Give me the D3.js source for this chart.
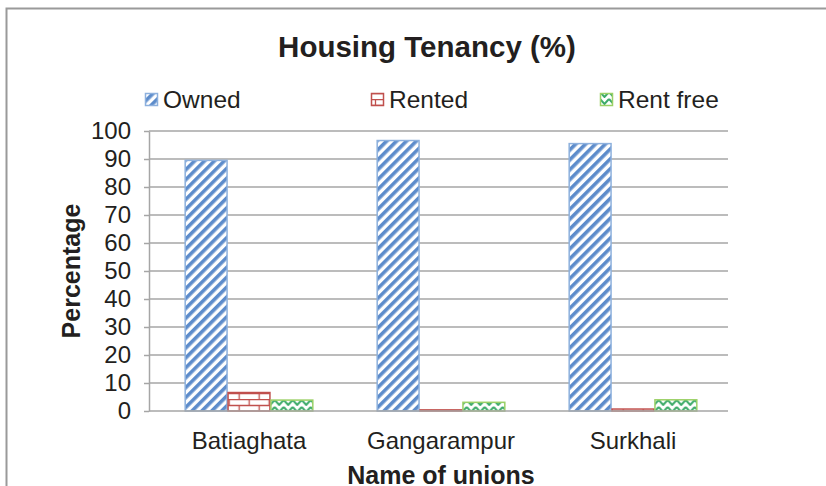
<!DOCTYPE html>
<html>
<head>
<meta charset="utf-8">
<script src="https://cdn.jsdelivr.net/npm/d3@7/dist/d3.min.js"></script>
<style>
  html, body { margin: 0; padding: 0; background: #fff; }
  svg { display: block; font-family: "Liberation Sans", Arial, sans-serif; }
</style>
</head>
<body>
<svg id="chart" width="826" height="486"></svg>
<script>
// Housing tenancy shares by union
const unions = ["Batiaghata", "Gangarampur", "Surkhali"];
const seriesNames = ["Owned", "Rented", "Rent free"];
const owned = [89.5, 96.6, 95.5];
const rented = [6.6, 0.4, 0.7];
const rentFree = [3.9, 3.1, 4.0];
const yTicks = [0, 10, 20, 30, 40, 50, 60, 70, 80, 90, 100];

const seriesValues = [owned, rented, rentFree];

const svg = d3.select("#chart");
const defs = svg.append("defs");
const textColor = "#231f20";

// Owned: blue diagonal stripes
const pOwned = defs.append("pattern")
  .attr("id", "pat-owned").attr("patternUnits", "userSpaceOnUse")
  .attr("width", 7).attr("height", 7)
  .attr("patternTransform", "rotate(45)");
pOwned.append("rect").attr("width", 7).attr("height", 7).attr("fill", "#ffffff");
pOwned.append("rect").attr("width", 3.6).attr("height", 7).attr("fill", "#5d8ccb");

// Rented: red brick
const pRent = defs.append("pattern")
  .attr("id", "pat-rented").attr("patternUnits", "userSpaceOnUse")
  .attr("width", 20).attr("height", 12).attr("y", 411);
pRent.append("rect").attr("width", 20).attr("height", 12).attr("fill", "#ffffff");
pRent.append("path")
  .attr("d", "M0,0.5H20 M0,6.5H20 M4.5,0V6 M14.5,6V12")
  .attr("stroke", "#c0504d").attr("stroke-width", 1.3).attr("fill", "none");

// Rent free: green zigzag trellis
const pFree = defs.append("pattern")
  .attr("id", "pat-free").attr("patternUnits", "userSpaceOnUse")
  .attr("width", 9).attr("height", 7);
pFree.append("rect").attr("width", 9).attr("height", 7).attr("fill", "#ffffff");
pFree.append("path")
  .attr("d", "M0,1 L4.5,6 L9,1")
  .attr("stroke", "#3dab6a").attr("stroke-width", 2).attr("fill", "none");

const fills = ["url(#pat-owned)", "url(#pat-rented)", "url(#pat-free)"];
const strokes = ["#8db0dd", "#c0504d", "#9bd066"];

// Outer frame
svg.append("rect")
  .attr("x", 6.5).attr("y", 8.5).attr("width", 840).attr("height", 500)
  .attr("fill", "none").attr("stroke", "#9a9a9a").attr("stroke-width", 2);

const plotLeft = 149, plotRight = 728;
const x0 = d3.scaleBand().domain(unions)
  .range([153, 729]).paddingInner(0.33).paddingOuter(0.165);
const y = d3.scaleLinear().domain([0, 100]).range([411, 131]);

const xBand = d3.scaleBand().domain(seriesNames).range([0, x0.bandwidth()]);

// Gridlines
svg.append("g")
  .selectAll("line").data(yTicks.filter(d => d > 0)).join("line")
  .attr("x1", plotLeft).attr("x2", plotRight)
  .attr("y1", d => y(d)).attr("y2", d => y(d))
  .attr("stroke", "#a6a6a6").attr("stroke-width", 1.5);

// Y axis
const yAxis = svg.append("g")
  .attr("transform", `translate(${plotLeft},0)`)
  .call(d3.axisLeft(y).tickValues(yTicks).tickSize(5).tickPadding(13).tickSizeOuter(0));
yAxis.select(".domain").attr("stroke", "#a6a6a6").attr("stroke-width", 1.5);
yAxis.selectAll(".tick line").attr("stroke", "#a6a6a6").attr("stroke-width", 1.5);
yAxis.selectAll(".tick text")
  .attr("font-size", 24).attr("fill", textColor)
  .attr("font-family", "Liberation Sans, Arial, sans-serif");

// Bars
const groups = svg.append("g").selectAll("g").data(unions).join("g")
  .attr("transform", d => `translate(${x0(d)},0)`);
seriesNames.forEach((s, si) => {
  groups.append("rect")
    .attr("x", xBand(s) + 0.5)
    .attr("width", xBand.bandwidth() - 1)
    .attr("y", (d, i) => y(seriesValues[si][i]))
    .attr("height", (d, i) => y(0) - y(seriesValues[si][i]))
    .attr("fill", fills[si])
    .attr("stroke", strokes[si]).attr("stroke-width", 1.5);
});

// X axis
const xAxis = svg.append("g")
  .attr("transform", `translate(0,${y(0)})`)
  .call(d3.axisBottom(x0).tickSize(0).tickPadding(21).tickSizeOuter(0));
xAxis.select(".domain").attr("stroke", "#a6a6a6").attr("stroke-width", 1.5)
  .attr("d", `M${plotLeft},0H${plotRight}`);
xAxis.selectAll(".tick text")
  .attr("font-size", 24).attr("fill", textColor)
  .attr("font-family", "Liberation Sans, Arial, sans-serif");

// Title
svg.append("text").attr("x", 427).attr("y", 57).attr("text-anchor", "middle")
  .attr("font-size", 29.5).attr("font-weight", "bold").attr("fill", textColor)
  .text("Housing Tenancy (%)");

// Axis titles
svg.append("text").attr("x", 441).attr("y", 484).attr("text-anchor", "middle")
  .attr("font-size", 25).attr("font-weight", "bold").attr("fill", textColor)
  .text("Name of unions");
svg.append("text")
  .attr("transform", "translate(80,271) rotate(-90)")
  .attr("text-anchor", "middle")
  .attr("font-size", 25).attr("font-weight", "bold").attr("fill", textColor)
  .text("Percentage");

// Legend
const legendX = [145, 371, 600];
const legend = svg.append("g").selectAll("g").data(seriesNames).join("g")
  .attr("transform", (d, i) => `translate(${legendX[i]},0)`);
legend.append("rect")
  .attr("x", 0.5).attr("y", 93.5).attr("width", 12).attr("height", 12)
  .attr("fill", (d, i) => fills[i]).attr("stroke", (d, i) => strokes[i]).attr("stroke-width", 1.5);
legend.append("text")
  .attr("x", 18).attr("y", 108)
  .attr("font-size", 24.5).attr("fill", textColor)
  .text(d => d);
</script>
</body>
</html>
